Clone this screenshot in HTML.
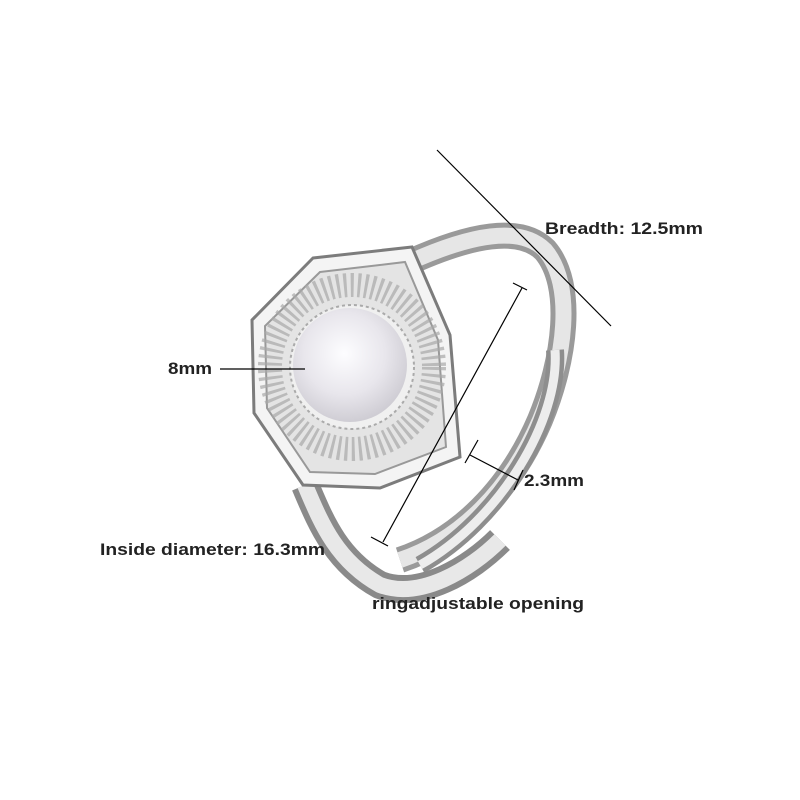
<html><body style="margin:0;background:#fff">
<svg width="800" height="800" viewBox="0 0 800 800" xmlns="http://www.w3.org/2000/svg" style="font-family:'Liberation Sans',sans-serif">
<defs>
<radialGradient id="p" cx="0.45" cy="0.4" r="0.6"><stop offset="0" stop-color="#fdfdff"/><stop offset="0.6" stop-color="#e8e6ec"/><stop offset="1" stop-color="#cfcdd4"/></radialGradient>
</defs>
<path d="M410,262 C470,235 520,225 545,250 C575,285 565,360 540,420 C510,490 460,540 400,560" fill="none" stroke="#9a9a9a" stroke-width="26"/>
<path d="M410,262 C470,235 520,225 545,250 C575,285 565,360 540,420 C510,490 460,540 400,560" fill="none" stroke="#e6e6e6" stroke-width="16"/>
<path d="M555,350 C560,420 500,520 420,565" fill="none" stroke="#8e8e8e" stroke-width="18"/>
<path d="M555,350 C560,420 500,520 420,565" fill="none" stroke="#ededed" stroke-width="9"/>
<path d="M305,485 C320,520 335,560 380,585 C420,600 470,570 500,540" fill="none" stroke="#8a8a8a" stroke-width="28"/>
<path d="M305,485 C320,520 335,560 380,585 C420,600 470,570 500,540" fill="none" stroke="#e8e8e8" stroke-width="16"/>
<polygon points="313,258 412,247 450,335 460,457 380,488 303,485 254,413 252,320" fill="#f4f4f4" stroke="#7c7c7c" stroke-width="3"/>
<polygon points="320,272 405,262 438,340 446,447 375,474 310,472 267,408 265,326" fill="#e4e4e4" stroke="#999" stroke-width="2"/>
<circle cx="352" cy="367" r="82" fill="none" stroke="#a8a8a8" stroke-dasharray="3 4" stroke-width="24" opacity="0.7"/>
<circle cx="352" cy="367" r="62" fill="#f0f0f0" stroke="#aaa" stroke-width="2" stroke-dasharray="3 3"/>
<circle cx="350" cy="365" r="57" fill="url(#p)"/>
<g stroke="#000" stroke-width="1.2" fill="none">
<line x1="437" y1="150" x2="611" y2="326"/>
<line x1="220" y1="369" x2="305" y2="369"/>
<line x1="383" y1="542" x2="522" y2="288"/>
<line x1="371" y1="537" x2="388" y2="546"/><line x1="513" y1="283" x2="527" y2="290"/>
<line x1="470" y1="455" x2="518" y2="480"/>
<line x1="478" y1="440" x2="465" y2="463"/><line x1="523" y1="470" x2="514" y2="490"/>
</g>
<g font-size="16.5" font-weight="bold" fill="#222">
<text x="545" y="234" textLength="158" lengthAdjust="spacingAndGlyphs">Breadth: 12.5mm</text>
<text x="168" y="374" textLength="44" lengthAdjust="spacingAndGlyphs">8mm</text>
<text x="524" y="486" textLength="60" lengthAdjust="spacingAndGlyphs">2.3mm</text>
<text x="100" y="555" textLength="225" lengthAdjust="spacingAndGlyphs">Inside diameter: 16.3mm</text>
<text x="372" y="609" textLength="212" lengthAdjust="spacingAndGlyphs">ringadjustable opening</text>
</g>
</svg>
</body></html>
